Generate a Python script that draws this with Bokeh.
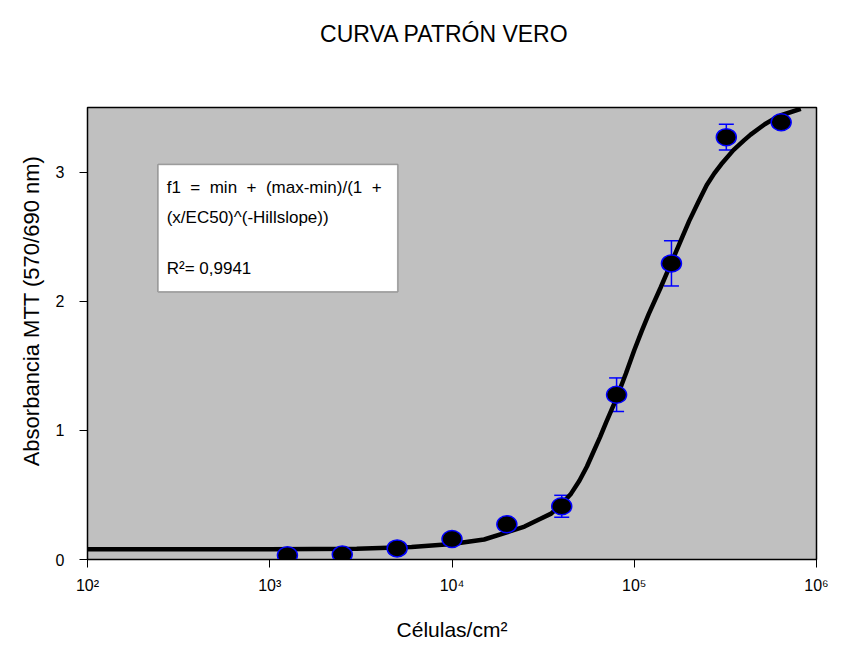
import math
from bokeh.plotting import figure
from bokeh.layouts import column, row
from bokeh.models import (ColumnDataSource, Whisker, TeeHead, FixedTicker,
                          BoxAnnotation, Label)
from bokeh.embed import file_html
from bokeh.resources import INLINE

# ---- data ----
cells = [1250, 2500, 5000, 10000, 20000, 40000, 80000, 160000, 320000, 640000]
absorb = [0.033, 0.038, 0.086, 0.159, 0.273, 0.412, 1.276, 2.293, 3.27, 3.386]
err = [0.0, 0.0, 0.0, 0.0, 0.0, 0.085, 0.13, 0.175, 0.10, 0.0]

# fitted sigmoid curve
fit_x = [100, 1000, 3000, 6000, 10000, 15000, 20000, 25000, 30000, 35000,
         40000, 45000, 50000, 55000, 60000, 65000, 70000, 80000, 90000,
         100000, 110000, 120000, 140000, 160000, 180000, 200000, 225000,
         250000, 275000, 300000, 350000, 400000, 435000, 520000, 580000,
         640000, 820000]
fit_y = [0.079, 0.080, 0.084, 0.096, 0.12, 0.155, 0.21, 0.255, 0.31, 0.355,
         0.43, 0.51, 0.61, 0.72, 0.84, 0.95, 1.06, 1.25, 1.44,
         1.62, 1.77, 1.90, 2.11, 2.30, 2.47, 2.62, 2.77,
         2.90, 2.99, 3.06, 3.17, 3.245, 3.29, 3.37, 3.41,
         3.44, 3.49]

x_ticks = [100, 1000, 10000, 100000, 1000000]
x_tick_labels = ["10²", "10³", "10⁴", "10⁵", "10⁶"]
y_ticks = [0, 1, 2, 3]

title_text = "CURVA PATRÓN VERO"
x_label = "Células/cm²"
y_label = "Absorbancia MTT (570/690 nm)"
eq_line1 = "f1\u00a0\u00a0=\u00a0\u00a0min\u00a0\u00a0+\u00a0\u00a0(max-min)/(1\u00a0\u00a0+"
eq_line2 = "(x/EC50)^(-Hillslope))"
eq_line3 = "R²= 0,9941"

FONT = "Liberation Sans"
TOTAL_W, TOTAL_H = 836, 643
TITLE_H = 70
YLAB_W = 50


def blank_fig(w, h):
    f = figure(width=w, height=h, x_range=(0, w), y_range=(0, h),
               output_backend="svg", toolbar_location=None,
               x_axis_location=None, y_axis_location=None,
               min_border=0)
    f.grid.visible = False
    f.outline_line_color = None
    f.background_fill_color = "white"
    f.border_fill_color = "white"
    return f


# ---- title strip ----
tf = blank_fig(TOTAL_W, TITLE_H)
tf.add_layout(Label(x=444, y=TITLE_H - 33, text=title_text, text_font=FONT,
                    text_font_size="23px", text_color="black",
                    text_align="center", text_baseline="middle"))

# ---- y-axis title strip ----
main_h = TOTAL_H - TITLE_H
yf = blank_fig(YLAB_W, main_h)
yf.add_layout(Label(x=31, y=main_h - (328 - TITLE_H), text=y_label,
                    text_font=FONT, text_font_size="22px", text_color="black",
                    angle=math.pi / 2, text_align="center",
                    text_baseline="middle"))

# ---- main chart ----
p = figure(width=TOTAL_W - YLAB_W, height=main_h, x_axis_type="log",
           x_range=(1e2, 1e6), y_range=(0, 3.5),
           output_backend="svg", toolbar_location=None,
           min_border_left=87 - YLAB_W, min_border_right=20,
           min_border_top=107 - TITLE_H, min_border_bottom=75)

p.background_fill_color = "#c0c0c0"
p.border_fill_color = "white"
p.outline_line_color = "black"
p.outline_line_width = 1.5
p.grid.visible = False

p.xaxis.ticker = FixedTicker(ticks=x_ticks, minor_ticks=[])
overrides = {}
for tv, tl in zip(x_ticks, x_tick_labels):
    overrides[tv] = tl
    overrides[str(tv)] = tl
p.xaxis.major_label_overrides = overrides
p.yaxis.ticker = FixedTicker(ticks=y_ticks, minor_ticks=[])

for ax in (p.xaxis[0], p.yaxis[0]):
    ax.axis_line_color = "black"
    ax.axis_line_width = 1
    ax.major_tick_line_color = "black"
    ax.major_tick_out = 8
    ax.major_tick_in = 0
    ax.minor_tick_line_color = None
    ax.major_label_text_font = FONT
    ax.major_label_text_font_size = "16px"
    ax.major_label_text_color = "black"
    ax.axis_label_text_font = FONT
    ax.axis_label_text_font_style = "normal"
    ax.axis_label_text_color = "black"

p.xaxis.axis_label = x_label
p.xaxis.axis_label_text_font_size = "21px"
p.xaxis.major_label_standoff = 9
p.xaxis.axis_label_standoff = 21
p.yaxis.major_label_standoff = 15

# fitted curve
p.line(fit_x, fit_y, line_width=4.5, line_color="black")

# error bars
ex = [c for c, e in zip(cells, err) if e > 0]
eu = [a + e for a, e in zip(absorb, err) if e > 0]
el = [a - e for a, e in zip(absorb, err) if e > 0]
esrc = ColumnDataSource(dict(x=ex, upper=eu, lower=el))
wh = Whisker(base="x", upper="upper", lower="lower", source=esrc,
             line_color="#0000ff", line_width=1.5, level="underlay",
             upper_head=TeeHead(size=15, line_color="#0000ff", line_width=1.5),
             lower_head=TeeHead(size=15, line_color="#0000ff", line_width=1.5))
p.add_layout(wh)

# data points
src = ColumnDataSource(dict(x=cells, y=absorb))
p.ellipse(x="x", y="y", width=20, height=17, width_units="screen",
          height_units="screen", fill_color="black", line_color="#0000ff",
          line_width=1.5, source=src)

# equation box
box = BoxAnnotation(left=244, right=5035, bottom=2.074, top=3.058,
                    fill_color="white", fill_alpha=1.0,
                    line_color="black", line_width=1.5)
p.add_layout(box)
for txt, yy in ((eq_line1, 2.884), (eq_line2, 2.649), (eq_line3, 2.255)):
    p.add_layout(Label(x=272, y=yy, text=txt, text_font=FONT,
                       text_font_size="17px", text_color="black",
                       text_align="left", text_baseline="middle"))

layout = column(tf, row(yf, p, spacing=0), spacing=0)
open("out.html", "w").write(file_html(layout, INLINE))
